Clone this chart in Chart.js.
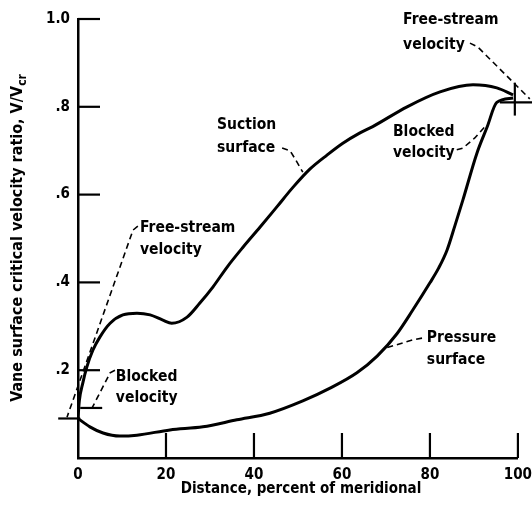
<!DOCTYPE html>
<html>
<head>
<meta charset="utf-8">
<script src="https://cdn.jsdelivr.net/npm/chart.js@4.4.0/dist/chart.umd.min.js"></script>
<style>
html, body { margin: 0; padding: 0; background: #fff; }
#wrap { width: 532px; height: 508px; }
</style>
</head>
<body>
<div id="wrap"><canvas id="chart"></canvas></div>
<script>
// DATA
let xTicks = [0, 20, 40, 60, 80, 100];
let yTicks = [0.2, 0.4, 0.6, 0.8, 1.0];

// suction surface
let suctionX = [0, 0.3, 1.1, 2, 3.4, 5, 7.3, 10.2, 13.4, 16.4, 19.3, 21.3, 24.8, 27.7, 30.7, 33.9, 37.5, 41.4, 45.2, 48.9, 52.7, 56.6, 60.2, 64, 67, 74.8, 82.3, 89.8, 95.2, 98.9];
let suctionY = [0.09, 0.13, 0.171, 0.207, 0.246, 0.276, 0.307, 0.326, 0.330, 0.326, 0.314, 0.307, 0.321, 0.353, 0.39, 0.435, 0.48, 0.526, 0.572, 0.617, 0.658, 0.69, 0.717, 0.74, 0.755, 0.80, 0.834, 0.85, 0.843, 0.827];

// pressure surface
let pressureX = [0, 2.7, 5.7, 9.5, 13.4, 20.9, 28.4, 36.1, 43.6, 51.1, 57.3, 63.4, 68, 72.5, 76.1, 80, 82, 83.9, 85.7, 87.5, 90.7, 93, 95.2, 98.9];
let pressureY = [0.09, 0.071, 0.057, 0.05, 0.052, 0.064, 0.071, 0.087, 0.102, 0.13, 0.159, 0.194, 0.232, 0.283, 0.337, 0.399, 0.433, 0.474, 0.53, 0.588, 0.695, 0.754, 0.81, 0.82];

// free-stream / blocked velocity marks
let leFreeX = [-4.5, 0.5];   let leFreeY = [0.09, 0.09];
let leBlockX = [0.5, 5.5];   let leBlockY = [0.114, 0.114];
let teHorizX = [95.9, 103.6]; let teHorizY = [0.81, 0.81];
let teVertX = [99.3, 99.3];  let teVertY = [0.78, 0.855];

// dashed leaders
let leadFreeLX = [13.6, 12.5, -2.5];        let leadFreeLY = [0.528, 0.519, 0.093];
let leadBlockLX = [8.4, 7.3, 3.2];          let leadBlockLY = [0.2, 0.194, 0.114];
let leadSuctionX = [46.4, 48.2, 49.5, 51.1]; let leadSuctionY = [0.706, 0.70, 0.679, 0.651];
let leadFreeRX = [89.1, 90.9, 102.7];       let leadFreeRY = [0.945, 0.936, 0.818];
let leadBlockRX = [86.1, 87.5, 90.2, 92.9]; let leadBlockRY = [0.702, 0.706, 0.729, 0.759];
let leadPressX = [78.2, 76.1, 69.8];        let leadPressY = [0.273, 0.269, 0.25];

// notes
let noteText = ['Free-stream', 'velocity', 'Blocked', 'velocity', 'Suction', 'surface', 'Free-stream', 'velocity', 'Blocked', 'velocity', 'Pressure', 'surface'];
let noteX = [14.1, 14.1, 8.6, 8.6, 31.6, 31.6, 73.9, 73.9, 71.6, 71.6, 79.3, 79.3];
let noteY = [0.524, 0.474, 0.185, 0.137, 0.759, 0.706, 0.998, 0.941, 0.743, 0.695, 0.273, 0.223];

let FONT = '"DejaVu Sans Condensed", "DejaVu Sans", sans-serif';

function pts(xs, ys) {
    return xs.map((x, i) => ({ x: x, y: ys[i] }));
}

function curve(xs, ys) {
    return { data: pts(xs, ys), showLine: true, pointRadius: 0, borderColor: '#000', borderWidth: 3, cubicInterpolationMode: 'monotone', fill: false };
}

function mark(xs, ys) {
    return { data: pts(xs, ys), showLine: true, pointRadius: 0, borderColor: '#000', borderWidth: 2.2, tension: 0, fill: false, clip: false };
}

function leader(xs, ys) {
    return { data: pts(xs, ys), showLine: true, pointRadius: 0, borderColor: '#000', borderWidth: 1.6, borderDash: [6, 4], tension: 0, fill: false, clip: false };
}

// inside tick marks, notes and axis titles
let extras = {
    id: 'extras',
    afterDraw(chart) {
        let ctx = chart.ctx;
        let xs = chart.scales.x;
        let ys = chart.scales.y;
        let area = chart.chartArea;

        ctx.save();
        ctx.strokeStyle = '#000';
        ctx.lineWidth = 2.2;
        yTicks.forEach((v) => {
            let py = ys.getPixelForValue(v);
            ctx.beginPath();
            ctx.moveTo(area.left, py);
            ctx.lineTo(area.left + 22, py);
            ctx.stroke();
        });
        xTicks.slice(1).forEach((v) => {
            let px = xs.getPixelForValue(v);
            ctx.beginPath();
            ctx.moveTo(px, area.bottom);
            ctx.lineTo(px, area.bottom - 25);
            ctx.stroke();
        });

        ctx.fillStyle = '#000';
        ctx.font = 'bold 15.5px ' + FONT;
        ctx.textAlign = 'left';
        ctx.textBaseline = 'middle';
        noteText.forEach((t, i) => {
            ctx.fillText(t, xs.getPixelForValue(noteX[i]), ys.getPixelForValue(noteY[i]));
        });

        // x title
        ctx.font = 'bold 15px ' + FONT;
        ctx.textAlign = 'center';
        ctx.fillText('Distance, percent of meridional', 301, 489);

        // y title with subscript
        ctx.translate(18, 238);
        ctx.rotate(-Math.PI / 2);
        let main = 'Vane surface critical velocity ratio, V/V';
        ctx.font = 'bold 16px ' + FONT;
        let w1 = ctx.measureText(main).width;
        ctx.font = 'bold 12px ' + FONT;
        let w2 = ctx.measureText('cr').width;
        let start = -(w1 + w2) / 2;
        ctx.textAlign = 'left';
        ctx.font = 'bold 16px ' + FONT;
        ctx.fillText(main, start, 0);
        ctx.font = 'bold 12px ' + FONT;
        ctx.fillText('cr', start + w1, 5);
        ctx.restore();
    }
};

let chart = new Chart(document.querySelector('#chart'), {
    type: 'scatter',
    data: {
        datasets: [
            curve(suctionX, suctionY),
            curve(pressureX, pressureY),
            mark(leFreeX, leFreeY),
            mark(leBlockX, leBlockY),
            mark(teHorizX, teHorizY),
            mark(teVertX, teVertY),
            leader(leadFreeLX, leadFreeLY),
            leader(leadBlockLX, leadBlockLY),
            leader(leadSuctionX, leadSuctionY),
            leader(leadFreeRX, leadFreeRY),
            leader(leadBlockRX, leadBlockRY),
            leader(leadPressX, leadPressY)
        ]
    },
    options: {
        responsive: true,
        maintainAspectRatio: false,
        animation: false,
        layout: { padding: { top: 19, right: 14, left: 0, bottom: 0 } },
        plugins: {
            legend: { display: false },
            tooltip: { enabled: false }
        },
        scales: {
            x: {
                type: 'linear',
                min: 0,
                max: 100,
                afterFit: (scale) => { scale.height = 50; },
                afterBuildTicks: (scale) => { scale.ticks = xTicks.map((v) => ({ value: v })); },
                grid: { display: false },
                border: { display: true, color: '#000', width: 2.5 },
                ticks: {
                    color: '#000',
                    padding: 0,
                    font: { family: FONT, size: 15, weight: 'bold' }
                }
            },
            y: {
                type: 'linear',
                min: 0,
                max: 1,
                afterFit: (scale) => { scale.width = 78; },
                afterBuildTicks: (scale) => { scale.ticks = yTicks.map((v) => ({ value: v })); },
                grid: { display: false },
                border: { display: true, color: '#000', width: 2.5 },
                ticks: {
                    color: '#000',
                    padding: 0,
                    font: { family: FONT, size: 15, weight: 'bold' },
                    callback: (v) => v === 1 ? '1.0' : v.toFixed(1).replace('0.', '.')
                }
            }
        }
    },
    plugins: [extras]
});
</script>
</body>
</html>
